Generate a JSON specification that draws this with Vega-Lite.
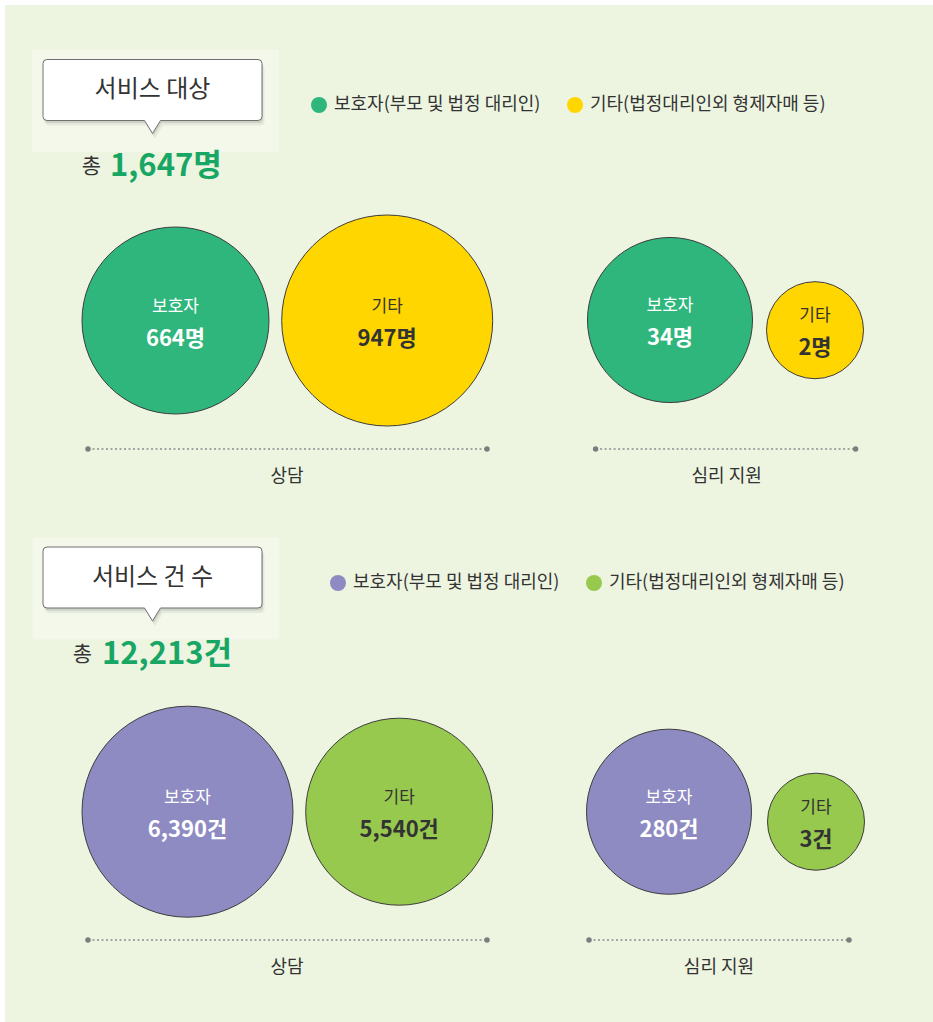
{
  "$schema": "https://vega.github.io/schema/vega-lite/v6.json",
  "width": 928,
  "height": 1017,
  "autosize": {"type": "none"},
  "padding": {"left": 5, "top": 5, "right": 0, "bottom": 0},
  "background": "#ffffff",
  "config": {
    "view": {"fill": "#edf5e1", "stroke": null},
    "font": "Noto Sans CJK KR"
  },
  "datasets": {
    "services": [
      {"section": "서비스 대상", "group": "상담", "category": "보호자", "value": 664, "label": "664명"},
      {"section": "서비스 대상", "group": "상담", "category": "기타", "value": 947, "label": "947명"},
      {"section": "서비스 대상", "group": "심리 지원", "category": "보호자", "value": 34, "label": "34명"},
      {"section": "서비스 대상", "group": "심리 지원", "category": "기타", "value": 2, "label": "2명"},
      {"section": "서비스 건 수", "group": "상담", "category": "보호자", "value": 6390, "label": "6,390건"},
      {"section": "서비스 건 수", "group": "상담", "category": "기타", "value": 5540, "label": "5,540건"},
      {"section": "서비스 건 수", "group": "심리 지원", "category": "보호자", "value": 280, "label": "280건"},
      {"section": "서비스 건 수", "group": "심리 지원", "category": "기타", "value": 3, "label": "3건"}
    ],
    "sections": [
      {"section": "서비스 대상", "total": 1647, "label": "1,647명"},
      {"section": "서비스 건 수", "total": 12213, "label": "12,213건"}
    ]
  },
  "resolve": {"scale": {"x": "independent", "y": "independent", "size": "independent", "fill": "independent"}},
  "layer": [
    {
      "data": {"name": "sections"},
      "mark": {"type": "point", "shape": "M-1,-0.413L1,-0.413L1,0.413L-1,0.413Z", "size": 61009, "filled": true, "fill": "#f3f8eb", "opacity": 1, "strokeWidth": 0},
      "encoding": {
        "x": {"field": "section", "type": "nominal", "axis": null, "scale": {"type": "point", "domain": ["서비스 대상", "서비스 건 수"], "range": [150.5, 151], "padding": 0}},
        "y": {"field": "section", "type": "nominal", "axis": null, "scale": {"type": "point", "domain": ["서비스 대상", "서비스 건 수"], "range": [96, 583.5], "padding": 0}}
      }
    },
    {
      "data": {"name": "sections"},
      "mark": {"type": "point", "shape": "M-0.9635,-0.2785L0.9635,-0.2785Q1,-0.2785 1,-0.242L1,0.242Q1,0.2785 0.9635,0.2785L0.073,0.2785L0,0.397L-0.073,0.2785L-0.9635,0.2785Q-1,0.2785 -1,0.242L-1,-0.242Q-1,-0.2785 -0.9635,-0.2785Z", "size": 47961, "filled": true, "fill": "#000000", "opacity": 0.06, "strokeWidth": 0},
      "encoding": {
        "x": {"field": "section", "type": "nominal", "axis": null, "scale": {"type": "point", "domain": ["서비스 대상", "서비스 건 수"], "range": [150, 150], "padding": 0}},
        "y": {"field": "section", "type": "nominal", "axis": null, "scale": {"type": "point", "domain": ["서비스 대상", "서비스 건 수"], "range": [90, 577.5], "padding": 0}}
      }
    },
    {
      "data": {"name": "sections"},
      "mark": {"type": "point", "shape": "M-0.9635,-0.2785L0.9635,-0.2785Q1,-0.2785 1,-0.242L1,0.242Q1,0.2785 0.9635,0.2785L0.073,0.2785L0,0.397L-0.073,0.2785L-0.9635,0.2785Q-1,0.2785 -1,0.242L-1,-0.242Q-1,-0.2785 -0.9635,-0.2785Z", "size": 47961, "filled": true, "fill": "#000000", "opacity": 0.1, "strokeWidth": 0},
      "encoding": {
        "x": {"field": "section", "type": "nominal", "axis": null, "scale": {"type": "point", "domain": ["서비스 대상", "서비스 건 수"], "range": [148.5, 148.5], "padding": 0}},
        "y": {"field": "section", "type": "nominal", "axis": null, "scale": {"type": "point", "domain": ["서비스 대상", "서비스 건 수"], "range": [87.5, 575], "padding": 0}}
      }
    },
    {
      "data": {"name": "sections"},
      "encoding": {
        "x": {"field": "section", "type": "nominal", "axis": null, "scale": {"type": "point", "domain": ["서비스 대상", "서비스 건 수"], "range": [147.5, 147.5], "padding": 0}},
        "y": {"field": "section", "type": "nominal", "axis": null, "scale": {"type": "point", "domain": ["서비스 대상", "서비스 건 수"], "range": [85, 572.5], "padding": 0}}
      },
      "layer": [
        {
          "mark": {"type": "point", "shape": "M-0.9635,-0.2785L0.9635,-0.2785Q1,-0.2785 1,-0.242L1,0.242Q1,0.2785 0.9635,0.2785L0.073,0.2785L0,0.397L-0.073,0.2785L-0.9635,0.2785Q-1,0.2785 -1,0.242L-1,-0.242Q-1,-0.2785 -0.9635,-0.2785Z", "size": 47961, "filled": true, "fill": "#ffffff", "opacity": 1, "stroke": "#707070", "strokeWidth": 1}
        },
        {
          "mark": {"type": "text", "fontSize": 24, "color": "#333333", "baseline": "middle", "align": "center"},
          "encoding": {"text": {"field": "section"}}
        }
      ]
    },
    {
      "data": {"name": "sections"},
      "mark": {"type": "text", "fontSize": 21, "color": "#333333", "baseline": "middle", "align": "center"},
      "encoding": {
        "x": {"field": "section", "type": "nominal", "axis": null, "scale": {"type": "point", "domain": ["서비스 대상", "서비스 건 수"], "range": [86.5, 77.5], "padding": 0}},
        "y": {"field": "section", "type": "nominal", "axis": null, "scale": {"type": "point", "domain": ["서비스 대상", "서비스 건 수"], "range": [162, 650], "padding": 0}},
        "text": {"value": "총"}
      }
    },
    {
      "data": {"name": "sections"},
      "mark": {"type": "text", "fontSize": 31, "fontWeight": "bold", "color": "#18a664", "baseline": "middle", "align": "left"},
      "encoding": {
        "x": {"field": "section", "type": "nominal", "axis": null, "scale": {"type": "point", "domain": ["서비스 대상", "서비스 건 수"], "range": [105, 97], "padding": 0}},
        "y": {"field": "section", "type": "nominal", "axis": null, "scale": {"type": "point", "domain": ["서비스 대상", "서비스 건 수"], "range": [162, 650], "padding": 0}},
        "text": {"field": "label"}
      }
    },
    {
      "data": {"name": "services"},
      "transform": [{"filter": {"field": "section", "equal": "서비스 대상"}}, {"filter": {"field": "group", "equal": "상담"}}],
      "encoding": {
        "x": {"field": "category", "type": "nominal", "axis": null, "scale": {"type": "point", "domain": ["보호자", "기타"], "range": [170.5, 382.2], "padding": 0}},
        "y": {"field": "category", "type": "nominal", "axis": null, "scale": {"type": "point", "domain": ["보호자", "기타"], "range": [315.5, 315.5], "padding": 0}}
      },
      "layer": [
        {
          "mark": {"type": "circle", "opacity": 1, "stroke": "#3d3d3d", "strokeWidth": 1},
          "encoding": {
            "size": {"field": "value", "type": "quantitative", "legend": null, "scale": {"domain": [664, 947], "range": [34969, 44521], "zero": false, "nice": false}},
            "fill": {"field": "category", "type": "nominal", "scale": {"domain": ["보호자", "기타"], "range": ["#2eb67c", "#ffd600"]},
              "legend": {"orient": "none", "legendX": 305, "legendY": 91, "direction": "horizontal", "title": null, "symbolType": "circle", "symbolSize": 256, "symbolStrokeWidth": 0, "symbolOpacity": 1, "labelFontSize": 18, "labelColor": "#333333", "labelOffset": 6, "columnPadding": 25, "padding": 0, "labelLimit": 400,
                "labelExpr": "datum.label == '보호자' ? '보호자(부모 및 법정 대리인)' : '기타(법정대리인외 형제자매 등)'"}}
          }
        },
        {
          "mark": {"type": "text", "dy": -14, "fontSize": 17, "baseline": "middle", "align": "center"},
          "encoding": {"text": {"field": "category"}, "color": {"condition": {"test": {"field": "category", "equal": "보호자"}, "value": "#ffffff"}, "value": "#333333"}}
        },
        {
          "mark": {"type": "text", "dy": 18, "fontSize": 22, "fontWeight": "bold", "baseline": "middle", "align": "center"},
          "encoding": {"text": {"field": "label"}, "color": {"condition": {"test": {"field": "category", "equal": "보호자"}, "value": "#ffffff"}, "value": "#333333"}}
        }
      ]
    },
    {
      "data": {"name": "services"},
      "transform": [{"filter": {"field": "section", "equal": "서비스 대상"}}, {"filter": {"field": "group", "equal": "심리 지원"}}],
      "encoding": {
        "x": {"field": "category", "type": "nominal", "axis": null, "scale": {"type": "point", "domain": ["보호자", "기타"], "range": [665, 810], "padding": 0}},
        "y": {"field": "category", "type": "nominal", "axis": null, "scale": {"type": "point", "domain": ["보호자", "기타"], "range": [315, 325.2], "padding": 0}}
      },
      "layer": [
        {
          "mark": {"type": "circle", "opacity": 1, "stroke": "#3d3d3d", "strokeWidth": 1},
          "encoding": {
            "size": {"field": "value", "type": "quantitative", "legend": null, "scale": {"domain": [2, 34], "range": [9409, 27225], "zero": false, "nice": false}},
            "fill": {"field": "category", "type": "nominal", "legend": null, "scale": {"domain": ["보호자", "기타"], "range": ["#2eb67c", "#ffd600"]}}
          }
        },
        {
          "mark": {"type": "text", "dy": -14, "fontSize": 17, "baseline": "middle", "align": "center"},
          "encoding": {"text": {"field": "category"}, "color": {"condition": {"test": {"field": "category", "equal": "보호자"}, "value": "#ffffff"}, "value": "#333333"}}
        },
        {
          "mark": {"type": "text", "dy": 18, "fontSize": 22, "fontWeight": "bold", "baseline": "middle", "align": "center"},
          "encoding": {"text": {"field": "label"}, "color": {"condition": {"test": {"field": "category", "equal": "보호자"}, "value": "#ffffff"}, "value": "#333333"}}
        }
      ]
    },
    {
      "data": {"name": "services"},
      "transform": [{"filter": {"field": "section", "equal": "서비스 건 수"}}, {"filter": {"field": "group", "equal": "상담"}}],
      "encoding": {
        "x": {"field": "category", "type": "nominal", "axis": null, "scale": {"type": "point", "domain": ["보호자", "기타"], "range": [182.5, 394.2], "padding": 0}},
        "y": {"field": "category", "type": "nominal", "axis": null, "scale": {"type": "point", "domain": ["보호자", "기타"], "range": [806.7, 806.7], "padding": 0}}
      },
      "layer": [
        {
          "mark": {"type": "circle", "opacity": 1, "stroke": "#3d3d3d", "strokeWidth": 1},
          "encoding": {
            "size": {"field": "value", "type": "quantitative", "legend": null, "scale": {"domain": [5540, 6390], "range": [34969, 44521], "zero": false, "nice": false}},
            "fill": {"field": "category", "type": "nominal", "scale": {"domain": ["보호자", "기타"], "range": ["#8e8ac2", "#97c94e"]},
              "legend": {"orient": "none", "legendX": 324, "legendY": 569, "direction": "horizontal", "title": null, "symbolType": "circle", "symbolSize": 256, "symbolStrokeWidth": 0, "symbolOpacity": 1, "labelFontSize": 18, "labelColor": "#333333", "labelOffset": 6, "columnPadding": 25, "padding": 0, "labelLimit": 400,
                "labelExpr": "datum.label == '보호자' ? '보호자(부모 및 법정 대리인)' : '기타(법정대리인외 형제자매 등)'"}}
          }
        },
        {
          "mark": {"type": "text", "dy": -14, "fontSize": 17, "baseline": "middle", "align": "center"},
          "encoding": {"text": {"field": "category"}, "color": {"condition": {"test": {"field": "category", "equal": "보호자"}, "value": "#ffffff"}, "value": "#333333"}}
        },
        {
          "mark": {"type": "text", "dy": 18, "fontSize": 22, "fontWeight": "bold", "baseline": "middle", "align": "center"},
          "encoding": {"text": {"field": "label"}, "color": {"condition": {"test": {"field": "category", "equal": "보호자"}, "value": "#ffffff"}, "value": "#333333"}}
        }
      ]
    },
    {
      "data": {"name": "services"},
      "transform": [{"filter": {"field": "section", "equal": "서비스 건 수"}}, {"filter": {"field": "group", "equal": "심리 지원"}}],
      "encoding": {
        "x": {"field": "category", "type": "nominal", "axis": null, "scale": {"type": "point", "domain": ["보호자", "기타"], "range": [664, 811], "padding": 0}},
        "y": {"field": "category", "type": "nominal", "axis": null, "scale": {"type": "point", "domain": ["보호자", "기타"], "range": [806.7, 816.7], "padding": 0}}
      },
      "layer": [
        {
          "mark": {"type": "circle", "opacity": 1, "stroke": "#3d3d3d", "strokeWidth": 1},
          "encoding": {
            "size": {"field": "value", "type": "quantitative", "legend": null, "scale": {"domain": [3, 280], "range": [9409, 27225], "zero": false, "nice": false}},
            "fill": {"field": "category", "type": "nominal", "legend": null, "scale": {"domain": ["보호자", "기타"], "range": ["#8e8ac2", "#97c94e"]}}
          }
        },
        {
          "mark": {"type": "text", "dy": -14, "fontSize": 17, "baseline": "middle", "align": "center"},
          "encoding": {"text": {"field": "category"}, "color": {"condition": {"test": {"field": "category", "equal": "보호자"}, "value": "#ffffff"}, "value": "#333333"}}
        },
        {
          "mark": {"type": "text", "dy": 18, "fontSize": 22, "fontWeight": "bold", "baseline": "middle", "align": "center"},
          "encoding": {"text": {"field": "label"}, "color": {"condition": {"test": {"field": "category", "equal": "보호자"}, "value": "#ffffff"}, "value": "#333333"}}
        }
      ]
    },
    {
      "data": {"name": "services"},
      "transform": [{"filter": {"field": "group", "equal": "상담"}}],
      "encoding": {
        "x": {"field": "category", "type": "nominal", "axis": null, "scale": {"type": "point", "domain": ["보호자", "기타"], "range": [83, 482], "padding": 0}},
        "y": {"field": "section", "type": "nominal", "axis": null, "scale": {"type": "point", "domain": ["서비스 대상", "서비스 건 수"], "range": [444, 935], "padding": 0}}
      },
      "layer": [
        {"mark": {"type": "line", "stroke": "#8c8c8c", "strokeWidth": 1.5, "strokeDash": [2, 2.5]}, "encoding": {"detail": {"field": "section"}}},
        {"mark": {"type": "circle", "opacity": 1, "color": "#7d7d7d", "size": 30}}
      ]
    },
    {
      "data": {"name": "services"},
      "transform": [{"filter": {"field": "group", "equal": "심리 지원"}}, {"filter": {"field": "section", "equal": "서비스 대상"}}],
      "encoding": {
        "x": {"field": "category", "type": "nominal", "axis": null, "scale": {"type": "point", "domain": ["보호자", "기타"], "range": [590.6, 850.6], "padding": 0}},
        "y": {"field": "section", "type": "nominal", "axis": null, "scale": {"type": "point", "domain": ["서비스 대상", "서비스 건 수"], "range": [444, 935], "padding": 0}}
      },
      "layer": [
        {"mark": {"type": "line", "stroke": "#8c8c8c", "strokeWidth": 1.5, "strokeDash": [2, 2.5]}, "encoding": {"detail": {"field": "section"}}},
        {"mark": {"type": "circle", "opacity": 1, "color": "#7d7d7d", "size": 30}}
      ]
    },
    {
      "data": {"name": "services"},
      "transform": [{"filter": {"field": "group", "equal": "심리 지원"}}, {"filter": {"field": "section", "equal": "서비스 건 수"}}],
      "encoding": {
        "x": {"field": "category", "type": "nominal", "axis": null, "scale": {"type": "point", "domain": ["보호자", "기타"], "range": [584, 844], "padding": 0}},
        "y": {"field": "section", "type": "nominal", "axis": null, "scale": {"type": "point", "domain": ["서비스 대상", "서비스 건 수"], "range": [444, 935], "padding": 0}}
      },
      "layer": [
        {"mark": {"type": "line", "stroke": "#8c8c8c", "strokeWidth": 1.5, "strokeDash": [2, 2.5]}, "encoding": {"detail": {"field": "section"}}},
        {"mark": {"type": "circle", "opacity": 1, "color": "#7d7d7d", "size": 30}}
      ]
    },
    {
      "data": {"name": "services"},
      "transform": [{"filter": {"field": "category", "equal": "보호자"}}, {"filter": {"field": "section", "equal": "서비스 대상"}}],
      "mark": {"type": "text", "fontSize": 18, "color": "#333333", "baseline": "middle", "align": "center"},
      "encoding": {
        "x": {"field": "group", "type": "nominal", "axis": null, "scale": {"type": "point", "domain": ["상담", "심리 지원"], "range": [282, 721.7], "padding": 0}},
        "y": {"field": "section", "type": "nominal", "axis": null, "scale": {"type": "point", "domain": ["서비스 대상", "서비스 건 수"], "range": [471.7, 963], "padding": 0}},
        "text": {"field": "group"}
      }
    },
    {
      "data": {"name": "services"},
      "transform": [{"filter": {"field": "category", "equal": "보호자"}}, {"filter": {"field": "section", "equal": "서비스 건 수"}}],
      "mark": {"type": "text", "fontSize": 18, "color": "#333333", "baseline": "middle", "align": "center"},
      "encoding": {
        "x": {"field": "group", "type": "nominal", "axis": null, "scale": {"type": "point", "domain": ["상담", "심리 지원"], "range": [282, 714], "padding": 0}},
        "y": {"field": "section", "type": "nominal", "axis": null, "scale": {"type": "point", "domain": ["서비스 대상", "서비스 건 수"], "range": [471.7, 963], "padding": 0}},
        "text": {"field": "group"}
      }
    }
  ]
}
